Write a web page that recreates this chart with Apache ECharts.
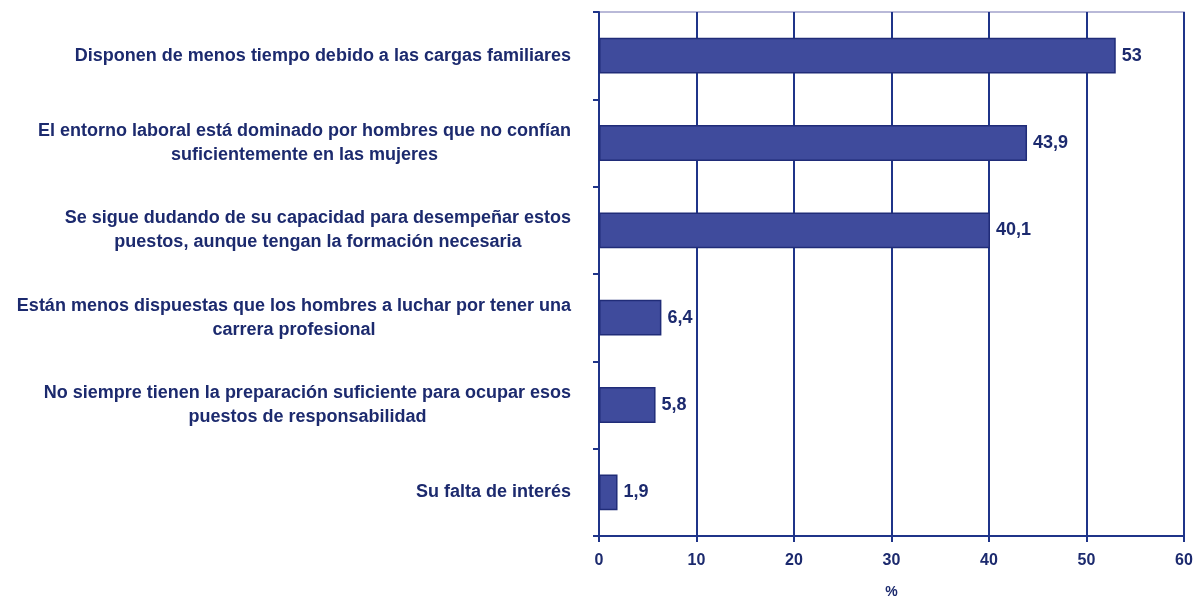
<!DOCTYPE html>
<html>
<head>
<meta charset="utf-8">
<script src="https://cdn.jsdelivr.net/npm/echarts@6/dist/echarts.min.js"></script>
<style>
  html, body { margin: 0; padding: 0; background: #ffffff; }
  #chart { width: 1195px; height: 597px; }
</style>
</head>
<body>
<div id="chart"></div>
<script>
// Reasons given for fewer women in positions of responsibility (%)
const categories = [
  'Disponen de menos tiempo debido a las cargas familiares',
  'El entorno laboral está dominado por hombres que no confían\nsuficientemente en las mujeres',
  'Se sigue dudando de su capacidad para desempeñar estos\npuestos, aunque tengan la formación necesaria',
  'Están menos dispuestas que los hombres a luchar por tener una\ncarrera profesional',
  'No siempre tienen la preparación suficiente para ocupar esos\npuestos de responsabilidad',
  'Su falta de interés'
];
const values = [53, 43.9, 40.1, 6.4, 5.8, 1.9];
const xTicks = { min: 0, max: 60, interval: 10 };
const xAxisName = '%';

const NAVY = '#1c2a6e';
const LINE = '#1f3489';
const FONT = '"Liberation Sans", Arial, sans-serif';

const chart = echarts.init(document.getElementById('chart'), null, { renderer: 'canvas' });

chart.setOption({
  animation: false,
  backgroundColor: '#ffffff',
  grid: {
    left: 599, right: 11, top: 12, bottom: 61,
    containLabel: false,
    outerBoundsMode: 'none',
    show: true, borderColor: '#a3a3cc', borderWidth: 1.5, backgroundColor: 'transparent'
  },
  xAxis: {
    type: 'value',
    min: xTicks.min, max: xTicks.max, interval: xTicks.interval,
    name: xAxisName, nameLocation: 'middle', nameGap: 49,
    nameTextStyle: { color: NAVY, fontFamily: FONT, fontWeight: 'bold', fontSize: 14 },
    axisLine: { show: true, lineStyle: { color: LINE, width: 2 } },
    axisTick: { show: true, length: 6, lineStyle: { color: LINE, width: 2 } },
    axisLabel: { color: NAVY, fontFamily: FONT, fontWeight: 'bold', fontSize: 16, margin: 17 },
    splitLine: { show: true, lineStyle: { color: LINE, width: 2 } }
  },
  yAxis: {
    type: 'category',
    inverse: true,
    data: categories,
    axisLine: { show: true, lineStyle: { color: LINE, width: 2 } },
    axisTick: { show: true, length: 6, lineStyle: { color: LINE, width: 2 } },
    axisLabel: {
      margin: 28,
      align: 'right',
      fontFamily: FONT,
      formatter: function (v) {
        return v.split('\n').map(function (l) { return '{c|' + l + '}'; }).join('\n');
      },
      rich: {
        c: {
          align: 'center', color: NAVY, fontFamily: FONT, fontWeight: 'bold',
          fontSize: 18, lineHeight: 24
        }
      }
    }
  },
  series: [{
    type: 'bar',
    data: values,
    barCategoryGap: '59%',
    itemStyle: { color: '#3f4b9c', borderColor: '#202c78', borderWidth: 1.5 },
    label: {
      show: true, position: 'right', distance: 6,
      color: NAVY, fontFamily: FONT, fontWeight: 'bold', fontSize: 18,
      formatter: function (p) { return String(p.value).replace('.', ','); }
    }
  }]
});
</script>
</body>
</html>
